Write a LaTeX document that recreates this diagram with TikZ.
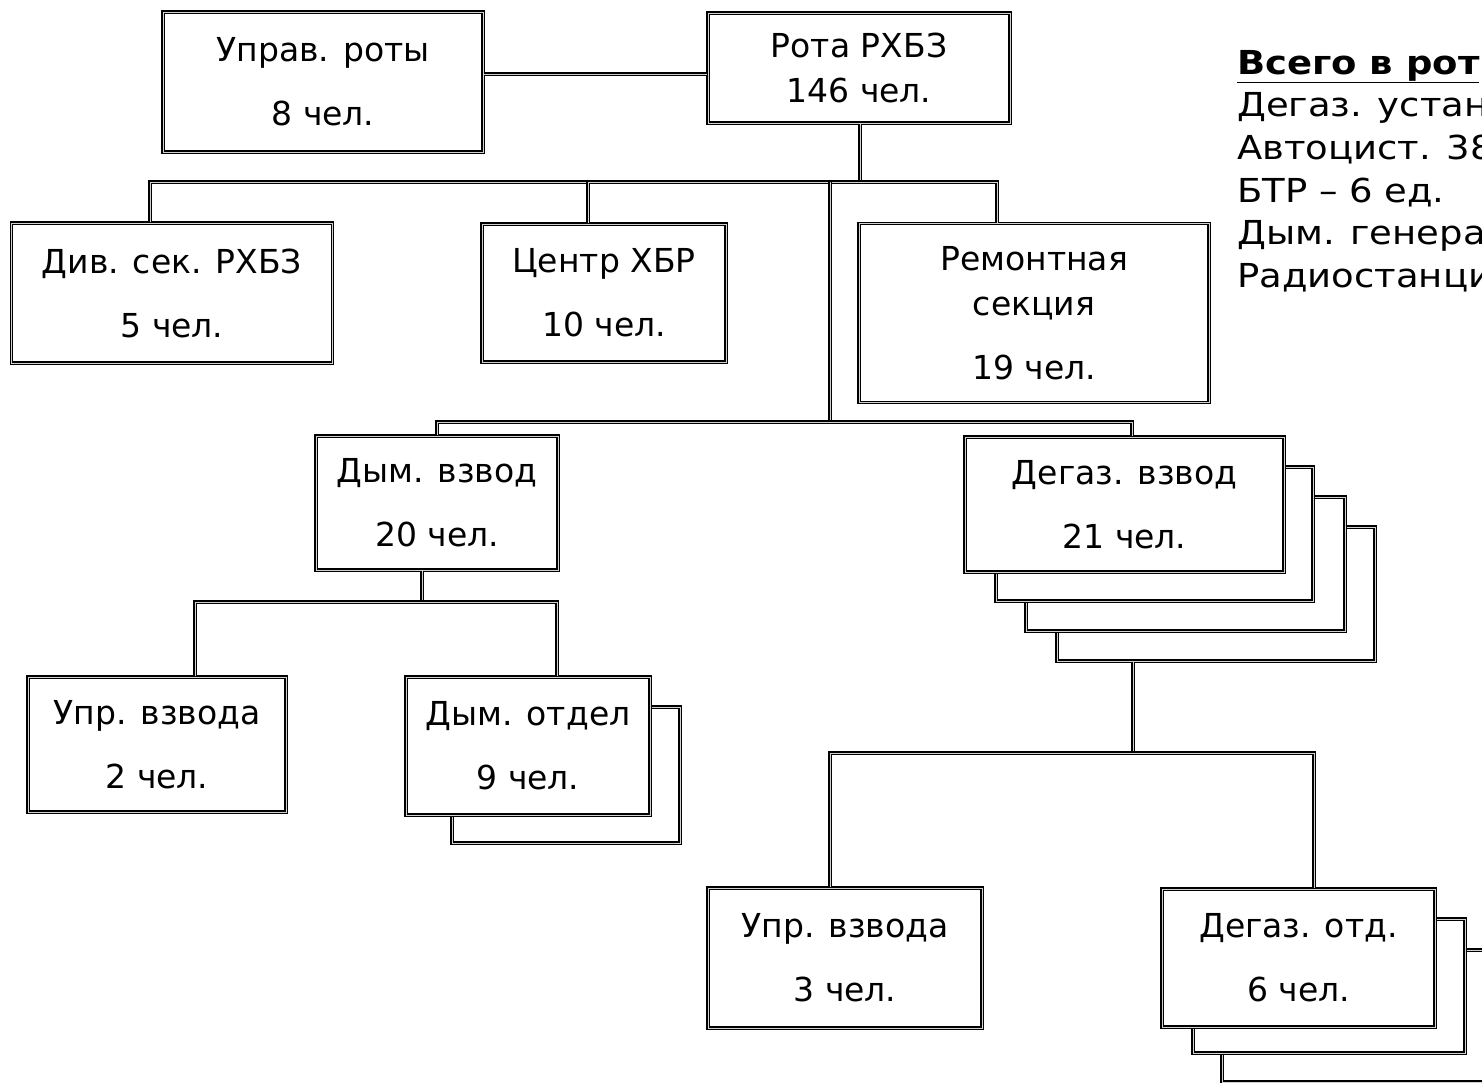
\documentclass[tikz,border=0pt]{standalone}
\usepackage{fontspec}
\setmainfont{DejaVu Sans}
\newfontfamily\totalfont[FakeStretch=1.12]{DejaVu Sans}
\begin{document}
\begin{tikzpicture}[x=1pt,y=-1pt,
  box/.style={draw, line width=1.2pt, double=gray!35, double distance=0.9pt,
    fill=white, inner sep=0pt, align=center, font=\fontsize{33}{45}\selectfont},
  link/.style={line width=1.2pt, double=gray!35, double distance=0.9pt}]
\useasboundingbox (0,0) rectangle (1482,1083);
\clip (0,0) rectangle (1482,1083);

% upper level
\node[box, minimum width=320pt, minimum height=140pt] (upr) at (323,82) {Управ. роты\\[19pt]8 чел.};
\node[box, minimum width=302pt, minimum height=110pt] (rota) at (859,68) {Рота РХБЗ\\146 чел.};
\node[box, minimum width=321pt, minimum height=140pt] (div) at (172,293) {Див. сек. РХБЗ\\[19pt]5 чел.};
\node[box, minimum width=244pt, minimum height=138pt] (centr) at (604,293) {Центр ХБР\\[19pt]10 чел.};
\node[box, minimum width=350pt, minimum height=179pt] (remont) at (1034,313) {Ремонтная\\секция\\[19pt]19 чел.};

% platoons
\node[box, minimum width=242pt, minimum height=134pt] (dymvzv) at (437,503) {Дым. взвод\\[19pt]20 чел.};
\node[box, minimum width=318pt, minimum height=134pt] (degaz3) at (1216,594) {};
\node[box, minimum width=319pt, minimum height=134pt] (degaz2) at (1185.5,564) {};
\node[box, minimum width=317pt, minimum height=134pt] (degaz1) at (1154.5,534) {};
\node[box, minimum width=319pt, minimum height=135pt] (degaz) at (1124.5,504.5) {Дегаз. взвод\\[19pt]21 чел.};

% squads
\node[box, minimum width=258pt, minimum height=135pt] (uprA) at (157,744.5) {Упр. взвода\\[19pt]2 чел.};
\node[box, minimum width=228pt, minimum height=136pt] (dymotd1) at (566,775) {};
\node[box, minimum width=244pt, minimum height=138pt] (dymotd) at (528,746) {Дым. отдел\\[19pt]9 чел.};
\node[box, minimum width=274pt, minimum height=140pt] (uprB) at (845,958) {Упр. взвода\\[19pt]3 чел.};
\node[box, minimum width=272pt, minimum height=132pt] (degotd2) at (1358,1016) {};
\node[box, minimum width=272pt, minimum height=134pt] (degotd1) at (1329,986) {};
\node[box, minimum width=273pt, minimum height=138pt] (degotd) at (1298.5,958) {Дегаз. отд.\\[19pt]6 чел.};

% connectors
\coordinate (b1) at (860,182);
\coordinate (b2) at (830,422);
\coordinate (b3) at (422,602);
\coordinate (b4) at (1133,753);
\draw[link] (upr.east |- 0,74) -- (rota.west |- 0,74);
\draw[link] (rota.south -| b1) -- (b1);
\draw[link] (div.north -| 150,0) |- (b1);
\draw[link] (centr.north -| 588,0) |- (b1);
\draw[link] (remont.north -| 997,0) |- (b1);
\draw[link] (b1 -| b2) -- (b2);
\draw[link] (dymvzv.north) |- (b2);
\draw[link] (degaz.north -| 1132,0) |- (b2);
\draw[link] (dymvzv.south -| b3) -- (b3);
\draw[link] (uprA.north -| 195,0) |- (b3);
\draw[link] (dymotd.north -| 557,0) |- (b3);
\draw[link] (degaz3.south -| b4) -- (b4);
\draw[link] (uprB.north -| 830,0) |- (b4);
\draw[link] (degotd.north -| 1314,0) |- (b4);

% totals
\node[anchor=north west, align=left, inner sep=0pt, font=\totalfont\fontsize{33}{42.6}\selectfont] (total) at (1237,50)
  {\underline{\textbf{Всего в рот}}\\Дегаз. устан\\Автоцист. 38\\БТР – 6 ед.\\Дым. генера\\Радиостанци};
\end{tikzpicture}
\end{document}
